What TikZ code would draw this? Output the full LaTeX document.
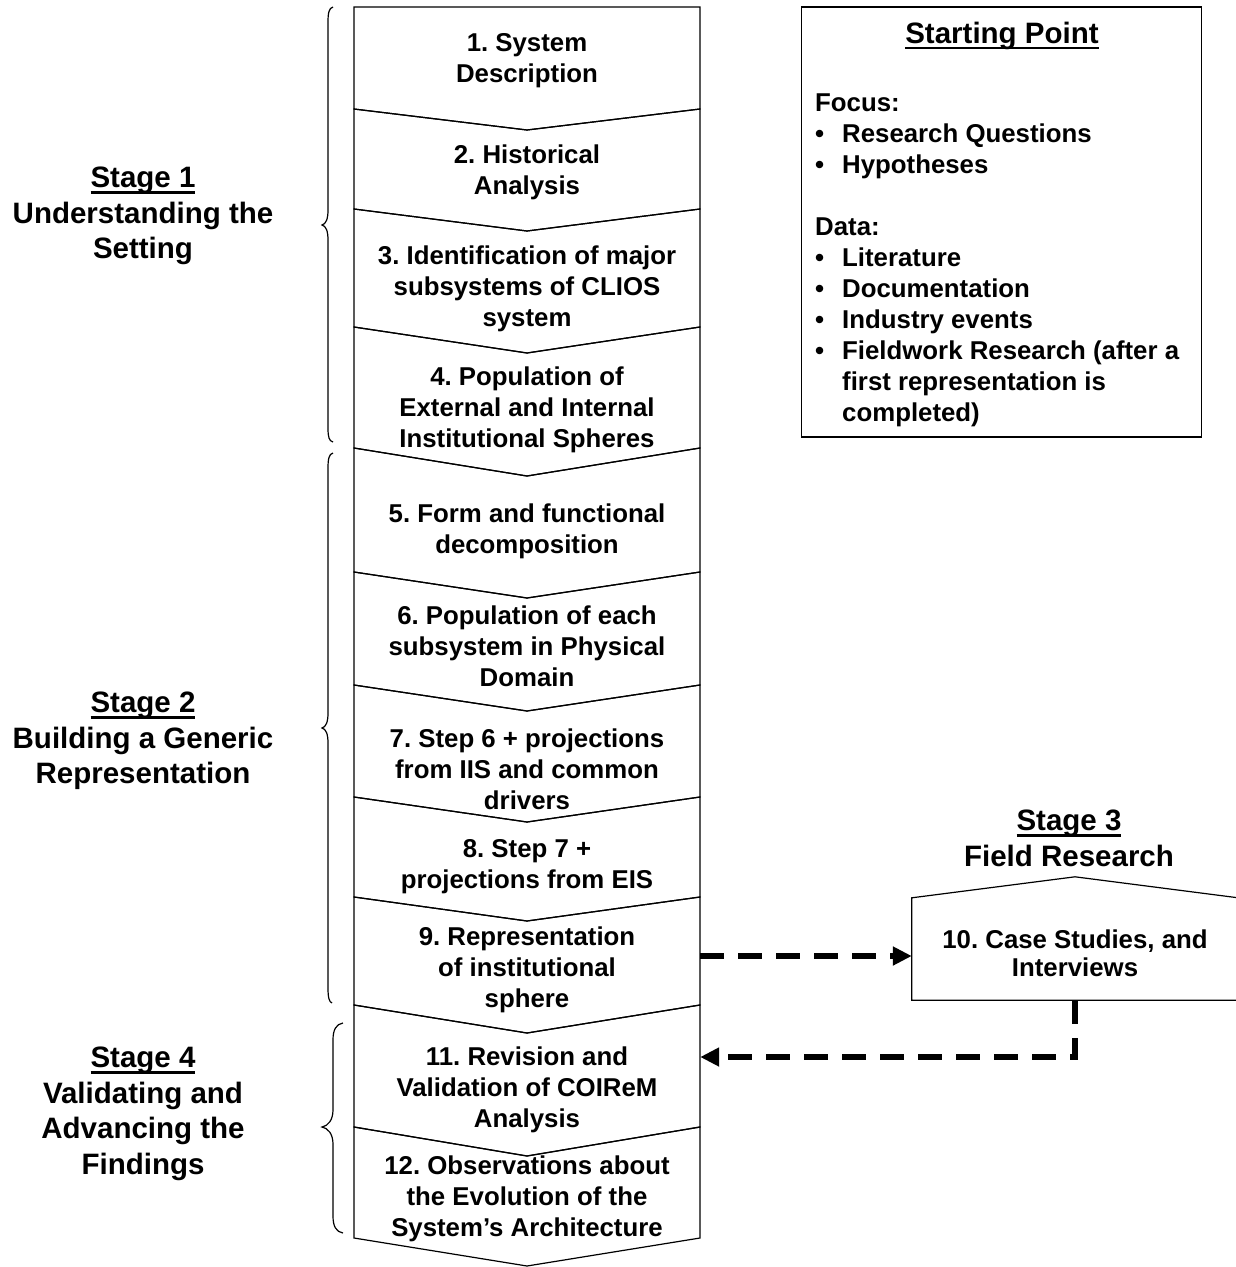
\documentclass[tikz,border=0pt]{standalone}
\usepackage{fontspec}
\setmainfont{Liberation Sans}
\usetikzlibrary{arrows.meta}
\frenchspacing

% underline that sits just below the baseline, crossing descenders
\newsavebox\ulinebox
\newcommand\ulined[1]{\sbox\ulinebox{#1}\rlap{\rule[-0.2em]{\wd\ulinebox}{0.08em}}\usebox\ulinebox}
% bullet with a hanging indent for the list items
\newcommand\bul{\makebox[27pt][l]{\textbullet}}
\newcommand\hang{\hspace*{27pt}}
% one chevron of the process column: top sides, top tip, bottom sides, bottom tip
\newcommand\stepshape[4]{\draw[outline] (354,#1) -- (527,#2) -- (700,#1) -- (700,#3) -- (527,#4) -- (354,#3) -- cycle;}

\begin{document}
\begin{tikzpicture}[x=1pt,y=-1pt,
  outline/.style={line width=1.2pt, line join=miter},
  steptext/.style={font=\bfseries\fontsize{25.8}{31}\selectfont, align=center, minimum width=346pt, inner sep=0pt},
  stagetext/.style={font=\bfseries\fontsize{29.5}{35.5}\selectfont, align=center, inner sep=0pt},
  bracepath/.style={line width=1.2pt},
  dasharrow/.style={line width=6.5pt, dash pattern=on 24pt off 14pt, -{Triangle[length=19pt,width=18pt]}}
]
\useasboundingbox (0,0) rectangle (1235,1267);
\fill[white] (0,0) rectangle (1235,1267);

% process column
\stepshape{7}{7}{109}{130}
\stepshape{109}{130}{209}{231}
\stepshape{209}{231}{327}{353}
\stepshape{327}{353}{448}{476}
\stepshape{448}{476}{572}{598}
\stepshape{572}{598}{685}{711}
\stepshape{685}{711}{797}{822}
\stepshape{797}{822}{897}{921}
\stepshape{897}{921}{1005}{1033}
\stepshape{1005}{1033}{1127}{1156}
\stepshape{1127}{1156}{1238}{1266}

\node[steptext] (s1) at (527,61) {1. System\\Description};
\node[steptext] (s2) at (527,172) {2. Historical\\Analysis};
\node[steptext] (s3) at (527,288.5) {3. Identification of major\\subsystems of CLIOS\\system};
\node[steptext] (s4) at (527,410) {4. Population of\\External and Internal\\Institutional Spheres};
\node[steptext] (s5) at (527,531) {5. Form and functional\\decomposition};
\node[steptext] (s6) at (527,646) {6. Population of each\\subsystem in Physical\\Domain};
\node[steptext] (s7) at (527,769) {7. Step 6 + projections\\from IIS and common\\drivers};
\node[steptext] (s8) at (527,867) {8. Step 7 +\\projections from EIS};
\node[steptext] (s9) at (527,969.5) {9. Representation\\of institutional\\sphere};
\node[steptext] (s11) at (527,1089.5) {11. Revision and\\Validation of COIReM\\Analysis};
\node[steptext] (s12) at (527,1199) {12. Observations about\\the Evolution of the\\System’s Architecture};

% stage braces
\draw[bracepath] (333,7) .. controls (329,8) and (328,13) .. (328,22) -- (328,210)
  .. controls (328,219) and (326,224) .. (322,225)
  .. controls (326,226) and (328,231) .. (328,240) -- (328,428)
  .. controls (328,437) and (329,441) .. (333,442);
\draw[bracepath] (333,453) .. controls (329,454) and (328,459) .. (328,468) -- (328,713)
  .. controls (328,722) and (326,727) .. (322,728)
  .. controls (326,729) and (328,734) .. (328,743) -- (328,988)
  .. controls (328,997) and (329,1002) .. (332,1003);
\draw[bracepath] (343,1023) .. controls (336,1024) and (333,1030) .. (333,1040) -- (333,1110)
  .. controls (333,1120) and (328,1126) .. (322,1127)
  .. controls (328,1128) and (333,1134) .. (333,1144) -- (333,1216)
  .. controls (333,1226) and (336,1232) .. (343,1233);

% stage labels
\node[stagetext] (st1) at (143,216) {\ulined{Stage 1}\\Understanding the\\Setting};
\node[stagetext] (st2) at (143,741) {\ulined{Stage 2}\\Building a Generic\\Representation};
\node[stagetext] (st4) at (143,1114) {\ulined{Stage 4}\\Validating and\\Advancing the\\Findings};
\node[stagetext] (st3) at (1069,838.5) {\ulined{Stage 3}\\Field Research};

% starting point box
\node[draw, line width=1.5pt, minimum width=400pt, minimum height=430pt, inner sep=0pt] (spbox) at (1001.5,222) {};
\node[font=\bfseries\fontsize{29.5}{35}\selectfont, inner sep=0pt] (sptitle) at (1002,36) {\ulined{Starting Point}};
\node[font=\bfseries\fontsize{25.8}{31}\selectfont, align=left, anchor=north west, inner sep=0pt] (spbody) at (815,93.5)
  {Focus:\\\bul Research Questions\\\bul Hypotheses\\[31pt]Data:\\\bul Literature\\\bul Documentation\\\bul Industry events\\\bul Fieldwork Research (after a\\\hang first representation is\\\hang completed)};

% field research step
\node[minimum width=326pt, minimum height=102pt, inner sep=0pt] (house) at (1075,949) {};
\draw[outline] (house.south west) -- (house.north west) -- ([yshift=21pt]house.north) -- (house.north east) -- (house.south east) -- cycle;
\node[font=\bfseries\fontsize{25.8}{28}\selectfont, align=center, inner sep=0pt] (housetext) at (1075,953) {10. Case Studies, and\\Interviews};

% feedback connectors
\draw[dasharrow] ([yshift=13.5pt]s9.east) -- ([yshift=13.5pt]s9.east -| house.west);
\draw[dasharrow] (house.south) |- ([yshift=32.5pt]s11.east);
\end{tikzpicture}
\end{document}
